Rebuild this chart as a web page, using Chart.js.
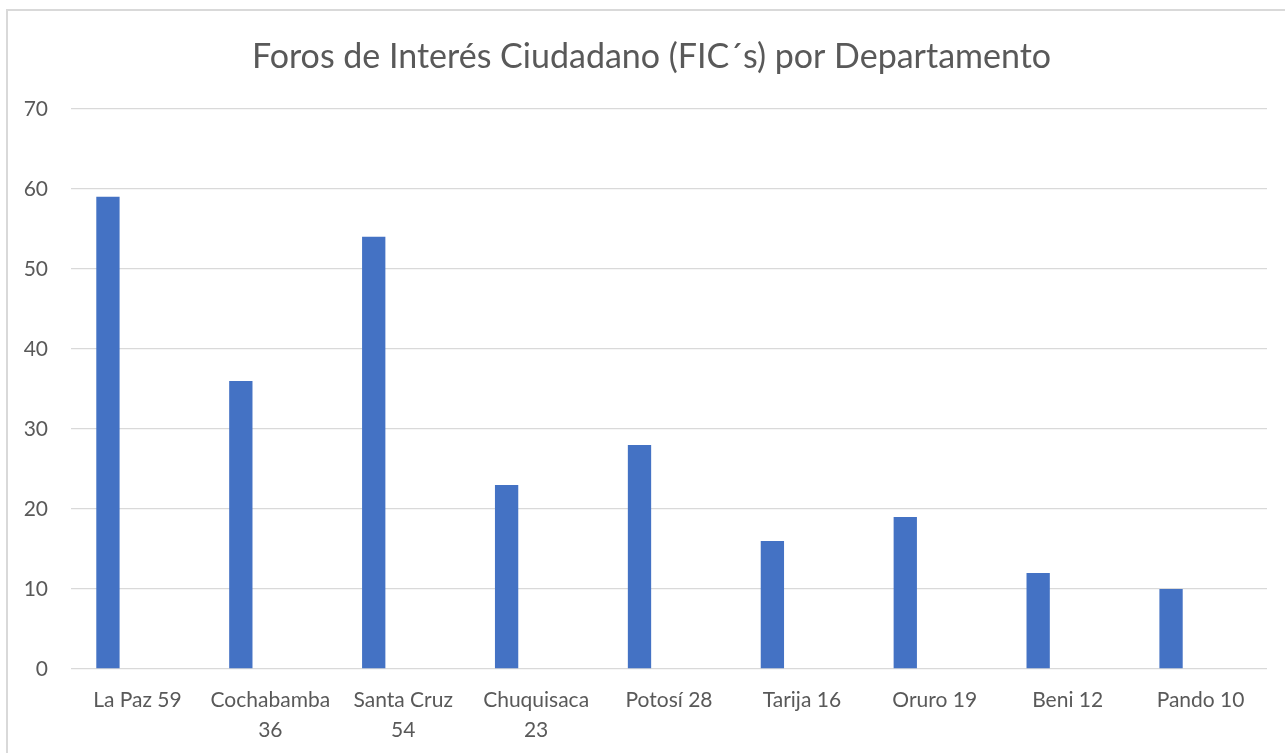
<!DOCTYPE html>
<html>
<head>
<meta charset="utf-8">
<script src="https://cdn.jsdelivr.net/npm/chart.js@4"></script>
<style>
  html, body { margin: 0; padding: 0; background: #fff; }
  #wrap { position: absolute; left: 0; top: 0; width: 1285px; height: 753px; }
  #frame { position: absolute; left: 6px; top: 9px; right: 0; bottom: 0;
           border-left: 2px solid #D9D9D9; border-top: 2px solid #D9D9D9; pointer-events: none; }
</style>
</head>
<body>
<div id="wrap">
  <canvas id="fics" width="1285" height="753"></canvas>
  <div id="frame"></div>
</div>
<script>
// chart values
const departamentos = ['La Paz', 'Cochabamba', 'Santa Cruz', 'Chuquisaca', 'Potosí', 'Tarija', 'Oruro', 'Beni', 'Pando'];
const foros = [59, 36, 54, 23, 28, 16, 19, 12, 10];
// axis labels as they wrap in the original
const etiquetas = [
    ['La Paz 59'], ['Cochabamba', '36'], ['Santa Cruz', '54'], ['Chuquisaca', '23'],
    ['Potosí 28'], ['Tarija 16'], ['Oruro 19'], ['Beni 12'], ['Pando 10']
];
const yTicks = [0, 10, 20, 30, 40, 50, 60, 70];

const fontFam = 'Lato, "Open Sans", sans-serif';
const gris = '#595959';

const ctx = document.getElementById('fics').getContext('2d');
new Chart(ctx, {
    type: 'bar',
    data: {
        labels: etiquetas,
        datasets: [
            {
                label: 'FIC´s',
                data: foros,
                backgroundColor: '#4472C4',
                borderWidth: 0,
                categoryPercentage: 0.888,
                barPercentage: 0.395
            },
            {
                // empty second series, keeps bars on the left of each slot
                label: '',
                data: departamentos.map(() => null),
                backgroundColor: 'rgba(0,0,0,0)',
                categoryPercentage: 0.888,
                barPercentage: 0.395
            }
        ]
    },
    options: {
        responsive: false,
        animation: false,
        layout: { padding: { left: 18, right: 0, top: 0, bottom: 0 } },
        plugins: {
            legend: { display: false },
            tooltip: { enabled: false },
            title: {
                display: true,
                text: 'Foros de Interés Ciudadano (FIC´s) por Departamento',
                color: gris,
                font: { family: fontFam, size: 34, weight: 'normal' },
                padding: { top: 37, bottom: 31 }
            }
        },
        scales: {
            y: {
                min: 0,
                max: 70,
                afterBuildTicks: (axis) => { axis.ticks = yTicks.map(v => ({ value: v })); },
                afterFit: (axis) => { axis.width = 53; },
                border: { display: false },
                grid: { color: '#D9D9D9', lineWidth: 1.3, drawTicks: false },
                ticks: {
                    color: gris,
                    padding: 23,
                    font: { family: fontFam, size: 21 }
                }
            },
            // blank spacer on the right side of the plot
            yRight: {
                position: 'right',
                min: 0,
                max: 70,
                afterFit: (axis) => { axis.width = 18; },
                border: { display: false },
                grid: { display: false, drawTicks: false },
                ticks: { display: false }
            },
            x: {
                afterFit: (axis) => { axis.height = 84; },
                border: { display: false },
                grid: { display: false, drawTicks: false },
                ticks: {
                    color: gris,
                    padding: 16,
                    maxRotation: 0,
                    autoSkip: false,
                    font: { family: fontFam, size: 21, lineHeight: 1.43 }
                }
            }
        }
    }
});
</script>
</body>
</html>
